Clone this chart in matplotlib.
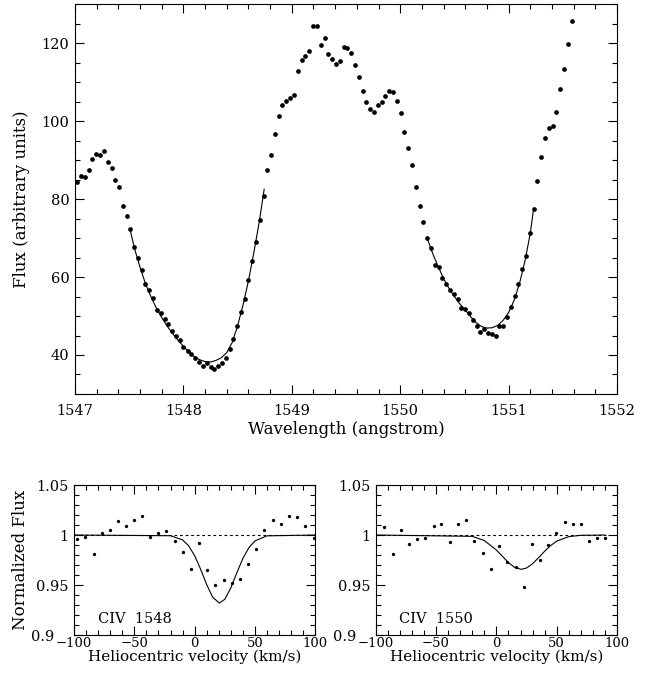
import matplotlib
matplotlib.use("Agg")
import matplotlib.pyplot as plt
from matplotlib.ticker import MultipleLocator, FuncFormatter
from matplotlib.transforms import ScaledTranslation

# observed spectrum (top panel)
wave = [1547.016, 1547.055, 1547.089, 1547.126, 1547.160, 1547.196, 1547.230, 1547.264,
        1547.300, 1547.337, 1547.371, 1547.405, 1547.440, 1547.476, 1547.510, 1547.544,
        1547.580, 1547.615, 1547.650, 1547.685, 1547.720, 1547.755, 1547.790, 1547.827,
        1547.860, 1547.897, 1547.930, 1547.968, 1548.000, 1548.040, 1548.070, 1548.110,
        1548.143, 1548.180, 1548.214, 1548.250, 1548.284, 1548.318, 1548.355, 1548.390,
        1548.426, 1548.460, 1548.494, 1548.530, 1548.564, 1548.600, 1548.634, 1548.670,
        1548.705, 1548.740, 1548.773, 1548.810, 1548.843, 1548.880, 1548.914, 1548.950,
        1548.984, 1549.020, 1549.055, 1549.090, 1549.126, 1549.160, 1549.196, 1549.233,
        1549.267, 1549.304, 1549.338, 1549.370, 1549.410, 1549.442, 1549.480, 1549.513,
        1549.546, 1549.583, 1549.617, 1549.654, 1549.688, 1549.724, 1549.758, 1549.793,
        1549.830, 1549.863, 1549.900, 1549.934, 1549.968, 1550.005, 1550.038, 1550.075,
        1550.108, 1550.145, 1550.180, 1550.213, 1550.250, 1550.284, 1550.320, 1550.355,
        1550.390, 1550.425, 1550.460, 1550.493, 1550.530, 1550.564, 1550.600, 1550.634,
        1550.670, 1550.705, 1550.740, 1550.775, 1550.810, 1550.845, 1550.880, 1550.913,
        1550.950, 1550.984, 1551.020, 1551.055, 1551.090, 1551.125, 1551.160, 1551.196,
        1551.230, 1551.264, 1551.300, 1551.336, 1551.370, 1551.406, 1551.440, 1551.478,
        1551.512, 1551.548, 1551.583]
flux = [84.4, 86.0, 85.6, 87.4, 90.3, 91.6, 91.3, 92.3,
        89.6, 88.0, 84.9, 83.1, 78.3, 75.7, 72.4, 67.6,
        64.8, 61.7, 58.1, 56.7, 54.6, 51.6, 50.7, 49.2,
        47.9, 46.1, 45.0, 43.9, 42.0, 41.0, 40.3, 39.2,
        38.1, 37.1, 38.0, 36.8, 36.4, 37.3, 38.0, 39.2,
        41.5, 44.0, 47.4, 50.9, 54.3, 59.2, 64.0, 69.0,
        74.7, 80.7, 87.4, 91.3, 96.7, 101.3, 104.2, 105.1,
        105.9, 106.8, 112.8, 115.7, 116.6, 117.9, 124.5, 124.4,
        119.5, 121.4, 117.3, 115.9, 114.6, 115.4, 118.9, 118.8,
        117.5, 114.4, 111.3, 107.7, 104.9, 103.1, 102.3, 104.2,
        104.8, 106.5, 107.8, 107.4, 105.1, 102.1, 97.1, 93.1,
        88.8, 83.1, 78.1, 74.0, 69.9, 67.4, 63.2, 62.6,
        59.7, 58.1, 56.6, 55.7, 54.3, 52.0, 51.7, 50.7,
        48.9, 47.4, 45.9, 46.6, 45.6, 45.4, 44.8, 47.4,
        47.5, 49.7, 52.3, 55.2, 58.1, 62.1, 65.5, 71.2,
        77.4, 84.5, 90.8, 95.7, 98.2, 98.7, 102.2, 108.1,
        113.3, 119.8, 125.6]

# fitted profiles over the two absorption troughs
fit1_wave = [1547.51, 1547.55, 1547.60, 1547.65, 1547.70, 1547.75, 1547.80, 1547.85,
             1547.90, 1547.95, 1548.00, 1548.05, 1548.10, 1548.15, 1548.20, 1548.25,
             1548.30, 1548.35, 1548.40, 1548.45, 1548.50, 1548.55, 1548.60, 1548.65,
             1548.70, 1548.745]
fit1_flux = [72.0, 67.2, 62.5, 58.3, 55.0, 52.0, 49.6, 47.4,
             45.5, 43.8, 42.2, 40.8, 39.6, 38.8, 38.3, 38.2,
             38.6, 39.3, 40.6, 43.2, 47.5, 52.8, 59.0, 66.3,
             74.2, 82.5]
fit2_wave = [1550.25, 1550.30, 1550.35, 1550.40, 1550.45, 1550.50, 1550.55, 1550.60,
             1550.65, 1550.70, 1550.75, 1550.80, 1550.85, 1550.90, 1550.95, 1551.00,
             1551.05, 1551.10, 1551.15, 1551.20, 1551.23]
fit2_flux = [69.9, 66.0, 62.7, 59.6, 57.1, 55.0, 53.1, 51.5,
             49.8, 48.3, 47.3, 46.9, 47.0, 47.6, 48.9, 50.9,
             54.0, 58.3, 64.0, 71.2, 77.4]

# normalized CIV 1548
vel1 = [-97.8, -90.6, -83.7, -77.1, -70.2, -63.6, -57.0, -50.4, -43.3, -36.9,
        -30.0, -23.4, -16.3, -9.6, -3.0, 3.6, 10.5, 17.1, 24.0, 31.1,
        37.5, 44.1, 50.7, 57.8, 64.7, 71.6, 78.2, 85.1, 91.7, 98.6]
nflux1 = [0.996, 0.998, 0.981, 1.002, 1.005, 1.014, 1.009, 1.015, 1.019, 0.998,
          1.002, 1.004, 0.994, 0.983, 0.966, 0.992, 0.965, 0.950, 0.955, 0.952,
          0.956, 0.971, 0.986, 1.005, 1.015, 1.011, 1.019, 1.018, 1.009, 0.997]
fitv1 = [-100, -20, -10, -5, 0, 5, 10, 15, 20.5, 25, 30, 35, 40, 45, 50, 60, 100]
fitf1 = [1.0, 0.9993, 0.9951, 0.9892, 0.9793, 0.9655, 0.9502, 0.9376, 0.932,
         0.9358, 0.9473, 0.9625, 0.9768, 0.9876, 0.9942, 0.9992, 1.0]

# normalized CIV 1550
vel2 = [-92.8, -85.9, -79.3, -72.6, -66.0, -59.1, -52.1, -45.5, -38.6, -31.9,
        -25.3, -18.4, -11.5, -4.6, 2.1, 9.0, 15.9, 22.5, 29.2, 36.1,
        43.0, 49.7, 56.6, 63.2, 70.1, 76.8, 83.7, 90.3]
nflux2 = [1.008, 0.981, 1.005, 0.991, 0.996, 0.997, 1.009, 1.011, 0.993, 1.011,
          1.015, 0.994, 0.982, 0.966, 0.989, 0.973, 0.968, 0.948, 0.991, 0.975,
          0.990, 1.002, 1.013, 1.011, 1.011, 0.994, 0.997, 0.997]
fitv2 = [-100, -20, -10, 0, 5, 10, 15, 20.5, 25, 30, 35, 40, 45, 50, 60, 70, 90]
fitf2 = [1.0, 0.9987, 0.9945, 0.9850, 0.9787, 0.9724, 0.9677, 0.9657, 0.9670,
         0.9713, 0.9774, 0.9838, 0.9895, 0.9939, 0.9984, 0.9997, 1.0]

cont1 = [-100, 100]
cont2 = [-100, 91]

plt.rcParams['font.family'] = 'DejaVu Serif'
plt.rcParams['font.size'] = 10.5
plt.rcParams['axes.linewidth'] = 0.8


def style(ax, xmaj, xmin, ymaj, ymin, pad):
    ax.xaxis.set_major_locator(MultipleLocator(xmaj))
    ax.xaxis.set_minor_locator(MultipleLocator(xmin))
    ax.yaxis.set_major_locator(MultipleLocator(ymaj))
    ax.yaxis.set_minor_locator(MultipleLocator(ymin))
    ax.tick_params(which='both', direction='in', top=True, right=True, width=0.8)
    ax.tick_params(which='major', length=6.5)
    ax.tick_params(which='minor', length=3.5)
    ax.tick_params(axis='x', pad=pad)
    ax.tick_params(axis='y', pad=4)


fig = plt.figure(figsize=(6.55, 6.84), dpi=100)

ax = fig.add_axes([0.1145, 0.424, 0.8275, 0.570])
ax.plot(wave, flux, 'o', color='black', markersize=3.4, markeredgewidth=0)
ax.plot(fit1_wave, fit1_flux, '-', color='black', linewidth=0.8)
ax.plot(fit2_wave, fit2_flux, '-', color='black', linewidth=0.8)
ax.set_xlim(1547, 1552)
ax.set_ylim(30, 130)
style(ax, 1, 0.2, 20, 5, 7)
ax.xaxis.set_major_formatter(FuncFormatter(lambda v, p: '%d' % round(v)))
ax.set_xlabel('Wavelength (angstrom)', fontsize=12)
ax.set_ylabel('Flux (arbitrary units)', fontsize=12)
ax.xaxis.set_label_coords(0.5, -0.07)
ax.yaxis.set_label_coords(-0.083, 0.5)

fmt = FuncFormatter(lambda v, p: '%g' % round(v, 2))

panels = [
    (0.113, vel1, nflux1, fitv1, fitf1, cont1, 'CIV  1548'),
    (0.5736, vel2, nflux2, fitv2, fitf2, cont2, 'CIV  1550'),
]
bottom_axes = []
for i, (left, v, f, fv, ff, cv, name) in enumerate(panels):
    bx = fig.add_axes([left, 0.0716, 0.3685, 0.2193])
    bx.plot(v, f, 'o', color='black', markersize=2.4, markeredgewidth=0)
    bx.plot(cv, [1, 1], color='black', linewidth=0.8, linestyle=(0, (2.5, 2.5)))
    bx.plot(fv, ff, '-', color='black', linewidth=0.8)
    bx.set_xlim(-100, 100)
    bx.set_ylim(0.9, 1.05)
    style(bx, 50, 10, 0.05, 0.01, 1.2)
    bx.tick_params(axis='x', labelsize=9.5)
    bx.yaxis.set_major_formatter(fmt)
    bx.text(-80.5, 0.912, name, ha='left', va='baseline')
    bx.set_xlabel('Heliocentric velocity (km/s)', fontsize=11)
    bx.xaxis.set_label_coords(0.5, -0.1)
    if i == 0:
        bx.set_ylabel('Normalized Flux', fontsize=12)
        bx.yaxis.set_label_coords(-0.186, 0.5)
    bottom_axes.append(bx)

# nudge the lowest y label left so it clears the -100 label, as in the original
fig.canvas.draw()
shift = ScaledTranslation(-10 / 72, 0, fig.dpi_scale_trans)
for bx in bottom_axes:
    for tick in bx.yaxis.get_major_ticks():
        if abs(tick.get_loc() - 0.9) < 1e-6:
            tick.label1.set_transform(tick.label1.get_transform() + shift)

fig.savefig('out.png', dpi=100)
